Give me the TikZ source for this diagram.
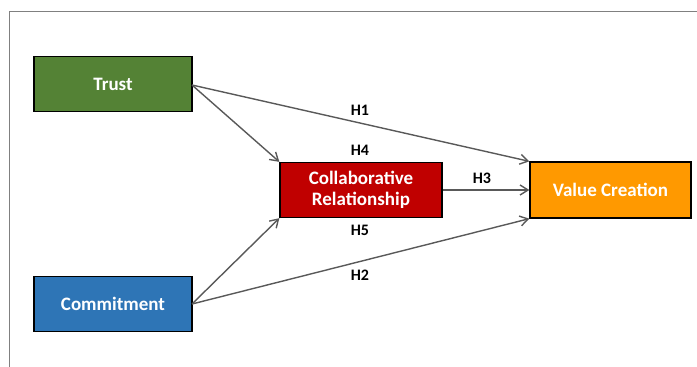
\documentclass[tikz,border=0pt]{standalone}
\usepackage{fontspec}
\setmainfont{Carlito}
\usetikzlibrary{arrows.meta}
\definecolor{trustg}{HTML}{548235}
\definecolor{commb}{HTML}{2E75B6}
\definecolor{collr}{HTML}{C00000}
\definecolor{valo}{HTML}{FF9900}
\definecolor{arrg}{HTML}{595959}
\begin{document}
\begin{tikzpicture}[x=1pt,y=-1pt,
  box/.style={draw=black,line width=1.3pt,minimum width=158pt,minimum height=55pt,
    text=white,font=\fontsize{19}{21}\selectfont\bfseries,align=center,inner sep=0pt},
  conn/.style={draw=arrg,line width=1.4pt,-{Straight Barb[length=8pt,width=10pt]}},
  hlab/.style={font=\fontsize{16}{18}\selectfont\bfseries,text=black,inner sep=0pt}]
\useasboundingbox (0,0) rectangle (697,367);
\draw[color=gray,line width=0.8pt] (697,11) -- (9.5,11) -- (9.5,367);
\node[box,fill=trustg] (trust) at (113,84) {Trust};
\node[box,fill=commb] (comm) at (113,304) {Commitment};
\node[box,fill=collr,minimum width=162pt] (coll) at (361,190) {Collaborative\\Relationship};
\node[box,fill=valo,minimum width=161pt,minimum height=56pt] (val) at (610.5,190) {Value Creation};
\coordinate (tA) at (192,85);
\coordinate (cA) at (192,304);
\draw[conn] (tA) -- (coll.north west);
\draw[conn] (tA) -- (val.north west);
\draw[conn] (cA) -- (coll.south west);
\draw[conn] (cA) -- (val.south west);
\draw[conn] (coll.east) -- (val.west);
\node[hlab] (h1) at (360,110) {H1};
\node[hlab] (h4) at (360,150) {H4};
\node[hlab] (h3) at (482,178) {H3};
\node[hlab] (h5) at (360,230) {H5};
\node[hlab] (h2) at (360,275) {H2};
\end{tikzpicture}
\end{document}
